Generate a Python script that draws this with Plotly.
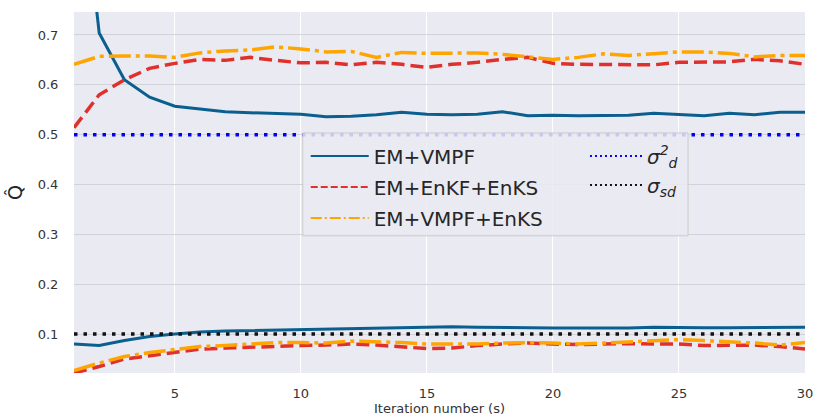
import plotly.graph_objects as go

# iteration numbers
iterations = list(range(1, 31))

# upper group
vmpf_hi = [1.15, 0.704, 0.610, 0.575, 0.557, 0.551, 0.546, 0.544, 0.543, 0.541,
           0.536, 0.537, 0.540, 0.545, 0.541, 0.540, 0.541, 0.546, 0.538, 0.539,
           0.538, 0.538, 0.539, 0.543, 0.540, 0.538, 0.543, 0.540, 0.545, 0.545]
enkf_hi = [0.514, 0.580, 0.610, 0.633, 0.643, 0.651, 0.649, 0.655, 0.649, 0.644,
           0.645, 0.640, 0.645, 0.641, 0.635, 0.641, 0.645, 0.651, 0.655, 0.643,
           0.641, 0.641, 0.641, 0.640, 0.645, 0.646, 0.646, 0.651, 0.648, 0.641]
vmpf_enks_hi = [0.641, 0.657, 0.658, 0.658, 0.655, 0.664, 0.668, 0.670, 0.676, 0.672,
                0.666, 0.667, 0.655, 0.665, 0.663, 0.664, 0.664, 0.661, 0.656, 0.651,
                0.655, 0.662, 0.659, 0.663, 0.666, 0.666, 0.663, 0.656, 0.659, 0.659]

# lower group
vmpf_lo = [0.080, 0.077, 0.087, 0.095, 0.100, 0.104, 0.106, 0.107, 0.109, 0.109,
           0.110, 0.111, 0.112, 0.114, 0.115, 0.115, 0.114, 0.113, 0.112, 0.112,
           0.112, 0.112, 0.112, 0.114, 0.113, 0.113, 0.113, 0.113, 0.113, 0.114]
enkf_lo = [0.022, 0.035, 0.050, 0.057, 0.063, 0.070, 0.072, 0.074, 0.076, 0.077,
           0.078, 0.080, 0.078, 0.075, 0.071, 0.072, 0.077, 0.080, 0.082, 0.080,
           0.079, 0.080, 0.081, 0.080, 0.080, 0.077, 0.078, 0.078, 0.075, 0.070]
vmpf_enks_lo = [0.027, 0.042, 0.055, 0.063, 0.069, 0.075, 0.077, 0.080, 0.083, 0.083,
                0.082, 0.086, 0.085, 0.083, 0.080, 0.080, 0.080, 0.082, 0.083, 0.082,
                0.080, 0.082, 0.084, 0.087, 0.089, 0.087, 0.085, 0.082, 0.078, 0.083]

# reference levels
sigma_d2 = 0.5
sigma_sd = 0.1

x_ticks = [5, 10, 15, 20, 25, 30]
y_ticks = [0.1, 0.2, 0.3, 0.4, 0.5, 0.6, 0.7]

BLUE = "#0b5f8e"
RED = "#e0302c"
ORANGE = "#ffa500"

fig = go.Figure()

# name, upper, lower, colour, dash on plot, dash in legend, width
styles = [
    ("EM+VMPF", vmpf_hi, vmpf_lo, BLUE, "solid", "solid", 3),
    ("EM+EnKF+EnKS", enkf_hi, enkf_lo, RED, "13px,6px", "7px,3px", 3.5),
    ("EM+VMPF+EnKS", vmpf_enks_hi, vmpf_enks_lo, ORANGE, "22px,5px,4px,5px",
     "11px,3px,2px,3px", 3.5),
]

for name, hi, lo, color, dash, ldash, lw in styles:
    for ys in (hi, lo):
        fig.add_trace(go.Scatter(x=iterations, y=ys, mode="lines", name=name,
                                 legendgroup=name, showlegend=False,
                                 line=dict(color=color, width=lw, dash=dash)))
    # thinner sample for the legend
    fig.add_trace(go.Scatter(x=[None], y=[None], mode="lines", name=name,
                             legendgroup=name, legend="legend",
                             line=dict(color=color, width=2, dash=ldash)))

levels = [
    ("<i>σ<sup>2</sup><sub>d</sub></i>", sigma_d2, "#0000ff"),
    ("<i>σ<sub>sd</sub></i>", sigma_sd, "#111111"),
]
for name, level, color in levels:
    fig.add_trace(go.Scatter(x=[iterations[0], iterations[-1]], y=[level, level],
                             mode="lines", name=name, legendgroup=name,
                             showlegend=False,
                             line=dict(color=color, width=3.5, dash="3.5px,6px")))
    fig.add_trace(go.Scatter(x=[None], y=[None], mode="lines", name=name,
                             legendgroup=name, legend="legend2",
                             line=dict(color=color, width=2, dash="2px,3px")))

# legend frame
fig.add_shape(type="rect", xref="paper", yref="paper", layer="above",
              x0=0.313, x1=0.840, y0=0.380, y1=0.665,
              fillcolor="rgba(234,234,242,0.85)",
              line=dict(color="#cccccc", width=1))

fig.update_layout(
    width=813, height=418,
    margin=dict(l=74, r=8, t=12, b=45),
    paper_bgcolor="white",
    plot_bgcolor="#eaeaf2",
    font=dict(family="DejaVu Sans", color="#333333", size=13),
    showlegend=True,
    legend=dict(x=0.317, y=0.655, xanchor="left", yanchor="top", itemwidth=58,
                bgcolor="rgba(0,0,0,0)", font=dict(size=20, color="#262626"),
                traceorder="grouped", tracegroupgap=2),
    legend2=dict(x=0.699, y=0.655, xanchor="left", yanchor="top", itemwidth=52,
                 bgcolor="rgba(0,0,0,0)", font=dict(size=20, color="#262626"),
                 traceorder="grouped", tracegroupgap=0),
    xaxis=dict(range=[1, 30], tickvals=x_ticks, showgrid=True, gridcolor="white",
               gridwidth=1.2, zeroline=False, showline=False, automargin=False,
               ticks="outside", ticklen=8, tickcolor="rgba(0,0,0,0)",
               ticklabeloverflow="allow",
               title=dict(text="Iteration number (s)", font=dict(size=13), standoff=2)),
    yaxis=dict(range=[0.022, 0.746], tickvals=y_ticks, tickformat=".1f",
               showgrid=True, gridcolor="#d2d2d9", gridwidth=1.2, zeroline=False,
               showline=False, ticks="outside", ticklen=12,
               tickcolor="rgba(0,0,0,0)",
               title=dict(text="Q̂", font=dict(size=19, color="#262626"), standoff=10)),
)

# page without the default body margin, so the figure fills the window
fig.write_html("out.html", config={"displayModeBar": False},
               post_script="document.body.style.margin='0';"
                           "document.body.style.overflow='hidden';")
